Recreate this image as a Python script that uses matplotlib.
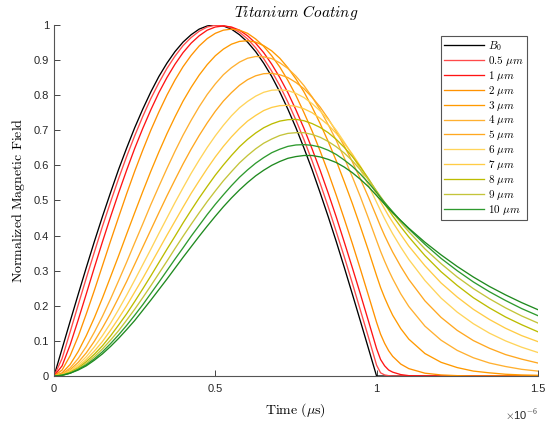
import matplotlib
matplotlib.use('Agg')
import matplotlib.pyplot as plt
from matplotlib.ticker import FuncFormatter
import numpy as np

plt.rcParams['mathtext.fontset'] = 'cm'
plt.rcParams['font.family'] = ['Liberation Sans', 'DejaVu Sans']

# time in microseconds (plotted in seconds)
t_us = [0, 0.025, 0.05, 0.075, 0.1, 0.125, 0.15, 0.175, 0.2, 0.225, 0.25, 0.275, 0.3, 0.325,
        0.35, 0.375, 0.4, 0.425, 0.45, 0.475, 0.5, 0.525, 0.55, 0.575, 0.6, 0.625, 0.65, 0.675,
        0.7, 0.725, 0.75, 0.775, 0.8, 0.825, 0.85, 0.875, 0.9, 0.925, 0.95, 0.975, 1.0,
        1.0125, 1.025, 1.0375, 1.05, 1.075, 1.1, 1.15, 1.2, 1.25, 1.3, 1.35, 1.4, 1.45, 1.5]

b0 = [0, .078, .156, .233, .309, .383, .454, .522, .588, .649, .707, .760, .809, .853, .891, .924,
      .951, .972, .988, .997, 1.0, .997, .988, .972, .951, .924, .891, .853, .809, .760, .707, .649,
      .588, .522, .454, .383, .309, .233, .156, .078, 0,
      0, 0, 0, 0, 0, 0, 0, 0, 0, 0, 0, 0, 0, 0]
c_05 = [0, .050, .126, .203, .279, .353, .426, .495, .562, .625, .684, .739, .790, .835, .876, .911,
        .941, .964, .982, .994, .999, .998, .992, .979, .960, .935, .904, .868, .827, .780, .729, .673,
        .613, .549, .482, .411, .339, .264, .187, .110, .031,
        .009, .003, .001, 0, 0, 0, 0, 0, 0, 0, 0, 0, 0, 0]
c_1 = [0, .029, .089, .160, .234, .309, .382, .453, .521, .586, .648, .705, .758, .807, .850, .888,
       .921, .948, .969, .985, .994, .997, .994, .985, .969, .948, .921, .888, .850, .807, .758, .705,
       .647, .586, .521, .453, .381, .308, .233, .156, .078,
       .047, .029, .017, .011, .004, .001, 0, 0, 0, 0, 0, 0, 0, 0]
c_2 = [0, .017, .058, .113, .177, .244, .314, .384, .452, .519, .583, .643, .700, .752, .800, .843,
       .881, .913, .940, .961, .976, .985, .988, .985, .976, .960, .939, .912, .880, .842, .799, .750,
       .698, .641, .580, .515, .447, .377, .304, .229, .153,
       .119, .093, .072, .056, .034, .021, .008, .003, .001, 0, 0, 0, 0, 0]
c_3 = [0, .009, .033, .070, .115, .166, .222, .282, .342, .404, .465, .525, .583, .638, .690, .738,
       .783, .822, .857, .887, .912, .931, .945, .953, .955, .951, .941, .926, .905, .878, .846, .809,
       .766, .719, .668, .613, .553, .491, .425, .357, .286,
       .252, .223, .197, .173, .135, .105, .064, .039, .024, .014, .009, .005, .003, .002]
c_4 = [0, .006, .023, .050, .084, .125, .170, .219, .271, .324, .379, .433, .488, .540, .591, .640,
       .686, .728, .767, .802, .832, .858, .878, .894, .905, .910, .909, .904, .892, .876, .854, .827,
       .795, .758, .716, .671, .621, .567, .510, .449, .386,
       .355, .327, .301, .277, .234, .198, .142, .102, .073, .052, .037, .027, .019, .014]
c_5 = [0, .005, .018, .039, .066, .099, .137, .178, .223, .269, .318, .367, .416, .465, .513, .559,
       .604, .646, .685, .721, .754, .783, .807, .828, .844, .855, .861, .862, .858, .850, .836, .818,
       .794, .766, .733, .696, .655, .610, .561, .509, .454,
       .426, .400, .376, .353, .312, .275, .214, .167, .130, .101, .079, .061, .048, .037]
c_6 = [0, .004, .015, .032, .055, .083, .115, .150, .189, .230, .273, .317, .361, .406, .450, .494,
       .536, .577, .615, .651, .684, .714, .741, .764, .782, .797, .808, .814, .815, .813, .805, .793,
       .776, .755, .730, .700, .666, .629, .587, .543, .495,
       .471, .448, .426, .405, .367, .332, .272, .222, .182, .149, .122, .100, .082, .067]
c_7 = [0, .003, .012, .027, .047, .071, .098, .130, .164, .200, .239, .278, .319, .360, .401, .441,
       .481, .520, .556, .591, .624, .654, .681, .705, .726, .742, .756, .765, .770, .771, .768, .761,
       .750, .734, .715, .691, .663, .632, .597, .559, .517,
       .496, .476, .456, .438, .403, .370, .314, .265, .225, .190, .161, .136, .115, .098]
c_8 = [0, .003, .011, .023, .041, .062, .086, .114, .145, .177, .212, .248, .285, .323, .361, .398,
       .436, .472, .507, .540, .572, .601, .628, .653, .674, .692, .707, .718, .726, .730, .731, .727,
       .719, .708, .693, .674, .651, .625, .595, .562, .526,
       .508, .490, .473, .456, .425, .396, .343, .297, .258, .223, .194, .168, .146, .126]
c_9 = [0, .002, .009, .021, .036, .055, .077, .102, .129, .159, .190, .223, .257, .292, .327, .363,
       .398, .432, .465, .497, .527, .556, .582, .607, .628, .647, .663, .675, .685, .691, .693, .693,
       .688, .680, .668, .653, .635, .613, .587, .559, .527,
       .511, .495, .480, .465, .437, .411, .362, .320, .282, .249, .220, .194, .171, .151]
c_10 = [0, .002, .008, .019, .032, .049, .069, .092, .117, .144, .173, .203, .235, .267, .300, .333,
        .365, .398, .429, .460, .489, .516, .542, .566, .587, .606, .622, .636, .646, .654, .658, .659,
        .657, .652, .643, .631, .615, .597, .575, .550, .523,
        .508, .494, .481, .468, .442, .419, .375, .335, .300, .268, .240, .215, .192, .172]
c_extra = [0, .002, .008, .017, .029, .045, .063, .084, .107, .132, .158, .187, .216, .246, .276, .307,
           .338, .368, .398, .427, .455, .482, .507, .530, .551, .570, .586, .600, .611, .620, .625, .628,
           .628, .624, .617, .608, .595, .579, .560, .539, .514,
           .502, .489, .477, .465, .443, .421, .381, .345, .312, .282, .255, .231, .209, .189]

series = [b0, c_05, c_1, c_2, c_3, c_4, c_5, c_6, c_7, c_8, c_9, c_10, c_extra]
labels = [r'$B_0$', r'$0.5\ \mu m$', r'$1\ \mu m$', r'$2\ \mu m$', r'$3\ \mu m$', r'$4\ \mu m$',
          r'$5\ \mu m$', r'$6\ \mu m$', r'$7\ \mu m$', r'$8\ \mu m$', r'$9\ \mu m$', r'$10\ \mu m$', None]
colors = ['#000000', '#ff4a4a', '#ff1414', '#ff9200', '#ff9a00', '#ffb030', '#ffa820',
          '#ffd45a', '#ffcc45', '#bcbc00', '#c4c43a', '#2e9a2e', '#1f8a1f']

t = np.array(t_us) * 1e-6

fig = plt.figure(figsize=(5.46, 4.22), dpi=100)
ax = fig.add_axes([0.099, 0.109, 0.886, 0.832])

handles = []
for y, lab, col in zip(series, labels, colors):
    h, = ax.plot(t, y, color=col, lw=0.95, label=lab)
    if lab is not None:
        handles.append(h)

ax.set_xlim(0, 1.5e-6)
ax.set_ylim(0, 1)
ax.set_xticks([0, 0.5e-6, 1e-6, 1.5e-6])
ax.set_yticks(np.arange(0, 1.01, 0.1))
ax.xaxis.set_major_formatter(FuncFormatter(lambda v, p: '%g' % round(v * 1e6, 3)))
ax.yaxis.set_major_formatter(FuncFormatter(lambda v, p: '%g' % round(v, 2)))
ax.tick_params(direction='in', length=4, width=0.6, labelsize=8, colors='#262626')
ax.tick_params(axis='x', pad=6)
for s in ['top', 'right']:
    ax.spines[s].set_visible(False)
for s in ['left', 'bottom']:
    ax.spines[s].set_color('#555555')
    ax.spines[s].set_linewidth(0.8)

ax.text(1.0, -0.088, r'$\times$10$^{-6}$', transform=ax.transAxes, ha='right', va='top',
        fontsize=8, color='#262626')

ax.set_title(r'$Titanium\ Coating$', fontsize=11, pad=6)
ax.set_xlabel(r'$\mathrm{Time\ (}\mu\mathrm{s)}$', fontsize=10, labelpad=5)
ax.set_ylabel(r'$\mathrm{Normalized\ Magnetic\ Field}$', fontsize=10, labelpad=5)

leg = ax.legend(handles=handles, loc='upper right', bbox_to_anchor=(0.977, 0.969), borderaxespad=0,
                fontsize=8, handlelength=3.6, handletextpad=0.3, labelspacing=0.08,
                fancybox=False, framealpha=1, edgecolor='#555555', borderpad=0.3)
leg.get_frame().set_linewidth(0.8)

plt.savefig('out.png', dpi=100)
